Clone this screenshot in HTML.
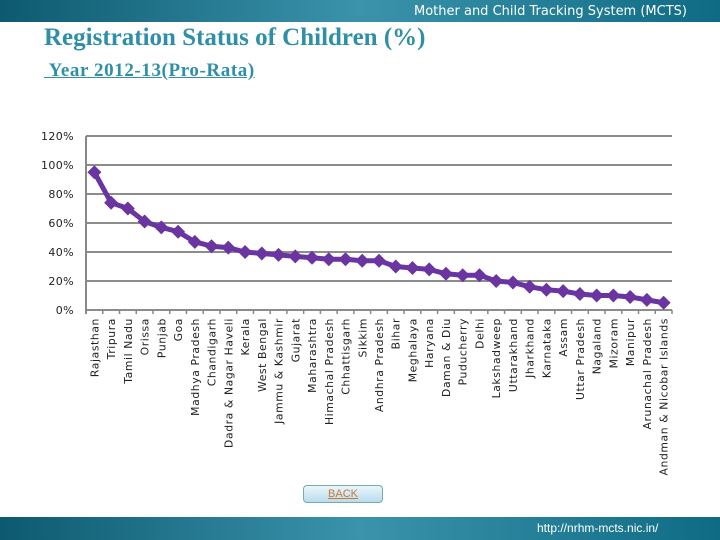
<!DOCTYPE html>
<html><head><meta charset="utf-8"><style>
body{margin:0;width:720px;height:540px;overflow:hidden;background:#fff;position:relative;font-family:"Liberation Sans",sans-serif}
.bar{position:absolute;left:0;width:720px;background:linear-gradient(90deg,#0d5a70,#3a93ab 50%,#0f6b84)}
</style></head><body>
<div class="bar" style="top:0;height:22px"></div>
<div style="position:absolute;right:33px;top:4px;color:#fff;font-family:'DejaVu Sans',sans-serif;font-size:13px">Mother and Child Tracking System (MCTS)</div>
<div style="position:absolute;left:44px;top:24px;color:#2e8fa6;font-family:'Liberation Serif',serif;font-weight:bold;font-size:25px;letter-spacing:0px">Registration Status of Children (%)</div>
<div style="position:absolute;left:44px;top:60px;color:#2e8fa6;font-family:'Liberation Serif',serif;font-weight:bold;font-size:19px;letter-spacing:0.6px;text-decoration:underline;white-space:pre"> Year 2012-13(Pro-Rata)</div>
<svg id="chart" width="720" height="540" style="position:absolute;left:0;top:0"></svg>
<div style="position:absolute;left:303px;top:485px;width:78px;height:16px;border:1px solid #7aa;border-radius:4px;background:linear-gradient(#eaf6fb,#b9dcec);text-align:center;font-size:11px;color:#c77a3a;text-decoration:underline;line-height:16px">BACK</div>
<div class="bar" style="top:517px;height:23px"></div>
<div style="position:absolute;left:537px;top:521px;color:#fff;font-size:12px">http://nrhm-mcts.nic.in/</div>
<script>
const categories=["Rajasthan","Tripura","Tamil Nadu","Orissa","Punjab","Goa","Madhya Pradesh","Chandigarh","Dadra & Nagar Haveli","Kerala","West Bengal","Jammu & Kashmir","Gujarat","Maharashtra","Himachal Pradesh","Chhattisgarh","Sikkim","Andhra Pradesh","Bihar","Meghalaya","Haryana","Daman & Diu","Puducherry","Delhi","Lakshadweep","Uttarakhand","Jharkhand","Karnataka","Assam","Uttar Pradesh","Nagaland","Mizoram","Manipur","Arunachal Pradesh","Andman & Nicobar Islands"];
const values=[95,74,70,61,57,54,47,44,43,40,39,38,37,36,35,35,34,34,30,29,28,25,24,24,20,19,16,14,13,11,10,10,9,7,5];
const yTicks=[0,20,40,60,80,100,120];
const svg=document.getElementById('chart');const NS='http://www.w3.org/2000/svg';
const L=86,R=672,Y0=310,Y120=136;
const band=(R-L)/categories.length;
const x=i=>L+band*(i+0.5);
const y=v=>Y0-(v/120)*(Y0-Y120);
function mk(t,a){const e=document.createElementNS(NS,t);for(const k in a)e.setAttribute(k,a[k]);svg.appendChild(e);return e;}
yTicks.forEach(t=>{
 const g=mk('line',{x1:L,x2:R,y1:y(t),y2:y(t),stroke:'#8c8c8c','stroke-width':2});
 
 
 const tx=mk('text',{x:74,y:y(t)+4,'text-anchor':'end','font-size':'11','font-family':'DejaVu Sans, sans-serif',fill:'#222','letter-spacing':'0.4'});
 tx.textContent=t+'%';
 
 
});
const ax=mk('line',{x1:L,x2:L,y1:Y120,y2:Y0+4,stroke:'#888','stroke-width':2});


categories.forEach((c,i)=>{
 const tk=mk('line',{x1:L+band*(i+1),x2:L+band*(i+1),y1:Y0,y2:Y0+4,stroke:'#888','stroke-width':1.5});
 
 
 const t=mk('text',{transform:`translate(${x(i)+4},318) rotate(-90)`,'text-anchor':'end','font-size':'10.8','font-family':'DejaVu Sans, sans-serif',fill:'#222','letter-spacing':'0.6'});
 t.textContent=c;
 
 
});
const pl=mk('polyline',{points:values.map((v,i)=>x(i)+','+y(v)).join(' '),fill:'none',stroke:'#6a35a0','stroke-width':5,'stroke-linejoin':'round'});


values.forEach((v,i)=>{
 const cx=x(i),cy=y(v),s=7;
 const d=mk('polygon',{points:`${cx},${cy-s} ${cx+s},${cy} ${cx},${cy+s} ${cx-s},${cy}`,fill:'#6a35a0'});
 
 
});
</script>
</body></html>
